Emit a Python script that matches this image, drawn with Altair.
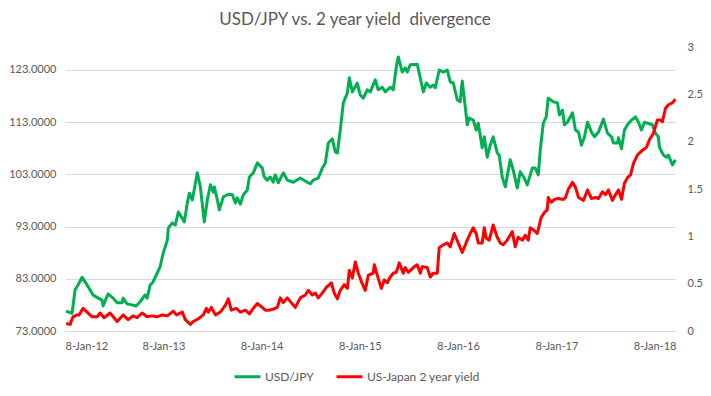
import altair as alt
import pandas as pd

# Dates as decimal years
green_years = [2012.030, 2012.091, 2012.122, 2012.152, 2012.193, 2012.224, 2012.264, 2012.305, 2012.356, 2012.397,
               2012.407, 2012.458, 2012.509, 2012.550, 2012.600, 2012.611, 2012.651, 2012.702, 2012.743, 2012.784,
               2012.835, 2012.855, 2012.886, 2012.916, 2012.957, 2012.987, 2013.018, 2013.059, 2013.069, 2013.110,
               2013.140, 2013.171, 2013.232, 2013.262, 2013.283, 2013.313, 2013.364, 2013.395, 2013.435, 2013.466,
               2013.497, 2013.527, 2013.537, 2013.568, 2013.588, 2013.629, 2013.680, 2013.721, 2013.751, 2013.771,
               2013.802, 2013.833, 2013.873, 2013.894, 2013.934, 2013.975, 2014.026, 2014.046, 2014.077, 2014.107,
               2014.138, 2014.158, 2014.189, 2014.240, 2014.281, 2014.342, 2014.413, 2014.484, 2014.515, 2014.545,
               2014.596, 2014.637, 2014.668, 2014.698, 2014.739, 2014.769, 2014.790, 2014.820, 2014.851, 2014.892,
               2014.912, 2014.943, 2014.993, 2015.024, 2015.055, 2015.095, 2015.126, 2015.177, 2015.207, 2015.248,
               2015.279, 2015.329, 2015.360, 2015.391, 2015.411, 2015.452, 2015.482, 2015.503, 2015.533, 2015.604,
               2015.635, 2015.666, 2015.696, 2015.737, 2015.767, 2015.788, 2015.828, 2015.869, 2015.910, 2015.940,
               2015.971, 2016.012, 2016.042, 2016.063, 2016.093, 2016.114, 2016.134, 2016.175, 2016.205, 2016.226,
               2016.266, 2016.287, 2016.317, 2016.348, 2016.378, 2016.419, 2016.439, 2016.470, 2016.501, 2016.551,
               2016.582, 2016.623, 2016.653, 2016.694, 2016.725, 2016.776, 2016.806, 2016.837, 2016.857, 2016.888,
               2016.918, 2016.938, 2016.989, 2017.030, 2017.050, 2017.081, 2017.101, 2017.132, 2017.183, 2017.213,
               2017.244, 2017.274, 2017.305, 2017.336, 2017.376, 2017.407, 2017.448, 2017.498, 2017.539, 2017.580,
               2017.600, 2017.641, 2017.651, 2017.682, 2017.712, 2017.743, 2017.784, 2017.824, 2017.855, 2017.885,
               2017.916, 2017.947, 2017.997, 2018.028, 2018.058, 2018.069, 2018.109, 2018.140, 2018.160, 2018.201,
               2018.231]
usdjpy = [76.8, 76.4, 80.9, 81.8, 83.3, 82.4, 81.2, 79.9, 79.3, 78.9,
          77.8, 80.1, 79.3, 78.4, 78.4, 79.3, 78.2, 78.0, 77.8, 78.6,
          79.9, 79.3, 81.8, 82.4, 84.1, 85.3, 88.0, 90.4, 92.7, 93.7,
          93.3, 95.8, 93.9, 97.5, 99.4, 98.1, 103.3, 100.6, 93.9, 98.1,
          101.0, 99.6, 100.6, 98.1, 96.2, 98.7, 99.2, 99.1, 97.5, 98.5,
          97.3, 99.1, 100.0, 102.5, 103.3, 105.2, 104.2, 102.5, 101.9, 102.5,
          101.5, 102.9, 101.4, 103.3, 101.9, 101.5, 102.3, 101.5, 101.2, 101.9,
          102.3, 104.2, 105.2, 109.0, 109.8, 107.3, 107.1, 111.5, 116.7, 118.6,
          121.5, 118.8, 120.5, 118.2, 117.6, 119.2, 118.8, 121.1, 119.2, 119.7,
          118.8, 119.7, 119.2, 123.6, 125.5, 122.6, 123.4, 122.6, 124.0, 124.1,
          121.5, 118.8, 120.5, 119.7, 120.1, 119.6, 123.0, 122.6, 123.0, 120.7,
          120.5, 117.3, 116.9, 120.9, 116.0, 112.5, 113.8, 113.4, 111.5, 112.8,
          108.1, 110.2, 106.3, 108.6, 110.2, 107.1, 106.7, 102.5, 100.6, 105.8,
          103.8, 100.4, 103.5, 102.3, 101.0, 104.2, 104.2, 102.9, 107.7, 112.8,
          114.0, 117.6, 116.9, 116.7, 114.4, 115.3, 112.5, 113.0, 114.8, 111.5,
          111.1, 108.6, 110.2, 113.0, 111.1, 110.2, 111.1, 113.6, 110.9, 110.2,
          109.0, 109.0, 110.0, 107.9, 111.5, 112.5, 113.4, 114.0, 113.0, 111.5,
          113.0, 112.8, 112.5, 110.9, 110.2, 108.2, 106.7, 106.3, 106.7, 104.8,
          105.8]

red_years = [2012.030, 2012.071, 2012.101, 2012.142, 2012.163, 2012.203, 2012.244, 2012.295, 2012.346, 2012.376,
             2012.417, 2012.478, 2012.550, 2012.611, 2012.662, 2012.712, 2012.753, 2012.804, 2012.855, 2012.906,
             2012.957, 2013.008, 2013.059, 2013.120, 2013.151, 2013.211, 2013.242, 2013.293, 2013.323, 2013.374,
             2013.425, 2013.456, 2013.476, 2013.507, 2013.548, 2013.598, 2013.649, 2013.680, 2013.710, 2013.761,
             2013.802, 2013.853, 2013.894, 2013.934, 2013.975, 2014.026, 2014.057, 2014.087, 2014.138, 2014.179,
             2014.209, 2014.240, 2014.281, 2014.321, 2014.362, 2014.413, 2014.464, 2014.494, 2014.535, 2014.566,
             2014.596, 2014.637, 2014.678, 2014.729, 2014.759, 2014.790, 2014.820, 2014.861, 2014.892, 2014.912,
             2014.943, 2014.973, 2015.004, 2015.044, 2015.075, 2015.106, 2015.156, 2015.167, 2015.197, 2015.238,
             2015.268, 2015.299, 2015.329, 2015.360, 2015.391, 2015.421, 2015.462, 2015.482, 2015.513, 2015.564,
             2015.604, 2015.635, 2015.655, 2015.706, 2015.737, 2015.767, 2015.808, 2015.828, 2015.869, 2015.910,
             2015.940, 2015.981, 2016.022, 2016.063, 2016.114, 2016.144, 2016.175, 2016.205, 2016.226, 2016.266,
             2016.287, 2016.307, 2016.338, 2016.378, 2016.419, 2016.450, 2016.480, 2016.521, 2016.572, 2016.602,
             2016.633, 2016.674, 2016.704, 2016.735, 2016.755, 2016.786, 2016.827, 2016.867, 2016.898, 2016.928,
             2016.938, 2016.969, 2017.000, 2017.040, 2017.091, 2017.112, 2017.142, 2017.183, 2017.213, 2017.244,
             2017.295, 2017.336, 2017.376, 2017.417, 2017.448, 2017.488, 2017.519, 2017.549, 2017.590, 2017.621,
             2017.651, 2017.682, 2017.712, 2017.743, 2017.774, 2017.804, 2017.845, 2017.896, 2017.936, 2017.967,
             2018.008, 2018.048, 2018.079, 2018.099, 2018.130, 2018.160, 2018.201, 2018.231]
spread = [0.08, 0.07, 0.15, 0.17, 0.17, 0.24, 0.20, 0.15, 0.15, 0.19,
          0.14, 0.19, 0.10, 0.17, 0.12, 0.16, 0.14, 0.19, 0.15, 0.16,
          0.15, 0.17, 0.16, 0.21, 0.17, 0.20, 0.12, 0.07, 0.10, 0.13,
          0.17, 0.24, 0.20, 0.25, 0.17, 0.20, 0.27, 0.34, 0.22, 0.24,
          0.20, 0.22, 0.18, 0.24, 0.29, 0.25, 0.22, 0.22, 0.23, 0.25,
          0.35, 0.30, 0.35, 0.30, 0.25, 0.35, 0.38, 0.43, 0.38, 0.40,
          0.35, 0.40, 0.46, 0.51, 0.40, 0.34, 0.43, 0.49, 0.45, 0.64,
          0.56, 0.73, 0.61, 0.50, 0.43, 0.59, 0.61, 0.70, 0.59, 0.45,
          0.54, 0.51, 0.57, 0.61, 0.62, 0.72, 0.61, 0.67, 0.62, 0.67,
          0.70, 0.61, 0.68, 0.67, 0.57, 0.61, 0.61, 0.88, 0.91, 0.93,
          0.89, 1.03, 0.93, 0.83, 0.96, 1.03, 1.09, 1.03, 0.93, 0.93,
          1.09, 0.98, 0.96, 1.12, 0.99, 0.93, 0.91, 0.96, 1.05, 0.89,
          0.99, 0.96, 1.01, 0.96, 1.09, 1.07, 1.03, 1.20, 1.25, 1.28,
          1.41, 1.36, 1.39, 1.40, 1.39, 1.41, 1.50, 1.57, 1.52, 1.41,
          1.38, 1.49, 1.40, 1.41, 1.40, 1.47, 1.44, 1.49, 1.38, 1.44,
          1.49, 1.39, 1.56, 1.62, 1.65, 1.77, 1.86, 1.91, 1.94, 2.02,
          2.09, 2.23, 2.23, 2.21, 2.35, 2.39, 2.41, 2.45]

series_names = ["USD/JPY", "US-Japan 2 year yield"]
series_colors = ["#00B050", "#FF0000"]
left_ticks = [73, 83, 93, 103, 113, 123]
right_ticks = [0, 0.5, 1, 1.5, 2, 2.5, 3]
tick_years = [2012, 2013, 2014, 2015, 2016, 2017, 2018]
title_text = "USD/JPY vs. 2 year yield\u00a0 divergence"


def to_date(y):
    yr = int(y)
    return pd.Timestamp(year=yr, month=1, day=1) + pd.Timedelta(days=(y - yr) * 365.25)


df_g = pd.DataFrame({"date": [to_date(y) for y in green_years], "value": usdjpy, "series": series_names[0]})
df_r = pd.DataFrame({"date": [to_date(y) for y in red_years], "value": spread, "series": series_names[1]})

FONT = "Lato"
GREY = "#595959"
LBL = 11

x_enc = alt.X(
    "date:T",
    scale=alt.Scale(domain=[alt.DateTime(year=2012, month=1, date=8), alt.DateTime(year=2018, month=3, date=25)]),
    axis=alt.Axis(
        values=[alt.DateTime(year=y, month=1, date=8) for y in tick_years],
        format="%-d-%b-%y", title=None, grid=False, domain=True, domainColor="#D9D9D9",
        ticks=False, labelPadding=9, labelFontSize=LBL, labelColor=GREY, labelFont=FONT,
    ),
)

color_enc = alt.Color(
    "series:N",
    scale=alt.Scale(domain=series_names, range=series_colors),
    legend=alt.Legend(
        orient="none", legendX=168, legendY=315, direction="horizontal", title=None,
        symbolType="stroke", symbolSize=676, symbolStrokeWidth=3, labelFontSize=12,
        labelColor=GREY, labelFont=FONT, columnPadding=16, labelOffset=3,
    ),
)

green = alt.Chart(df_g).mark_line(strokeWidth=3, strokeJoin="round").encode(
    x=x_enc,
    y=alt.Y(
        "value:Q",
        scale=alt.Scale(domain=[73, 127.4], nice=False, zero=False),
        axis=alt.Axis(
            values=left_ticks, format=".4f", grid=True, gridColor="#D9D9D9", domain=False,
            ticks=False, title=None, labelPadding=9, labelFontSize=LBL, labelColor=GREY, labelFont=FONT,
        ),
    ),
    color=color_enc,
)

red = alt.Chart(df_r).mark_line(strokeWidth=3, strokeJoin="round").encode(
    x=x_enc,
    y=alt.Y(
        "value:Q",
        scale=alt.Scale(domain=[0, 3], nice=False),
        axis=alt.Axis(
            orient="right", values=right_ticks, format="~g", grid=False, domain=False,
            ticks=False, title=None, labelPadding=12, labelFontSize=LBL, labelColor=GREY, labelFont=FONT,
        ),
    ),
    color=color_enc,
)

chart = (
    alt.layer(green, red)
    .resolve_scale(y="independent")
    .properties(
        width=610,
        height=284,
        padding={"left": 57, "top": 39, "right": 28, "bottom": 57},
        autosize=alt.AutoSizeParams(type="none"),
        background="white",
        title=alt.TitleParams(
            text=title_text, fontSize=17, font=FONT, color=GREY, fontWeight="normal",
            anchor="middle", offset=12, dx=-15,
        ),
    )
    .configure_view(stroke=None)
)

chart.save("out.html", embed_options={"renderer": "svg", "actions": False})
